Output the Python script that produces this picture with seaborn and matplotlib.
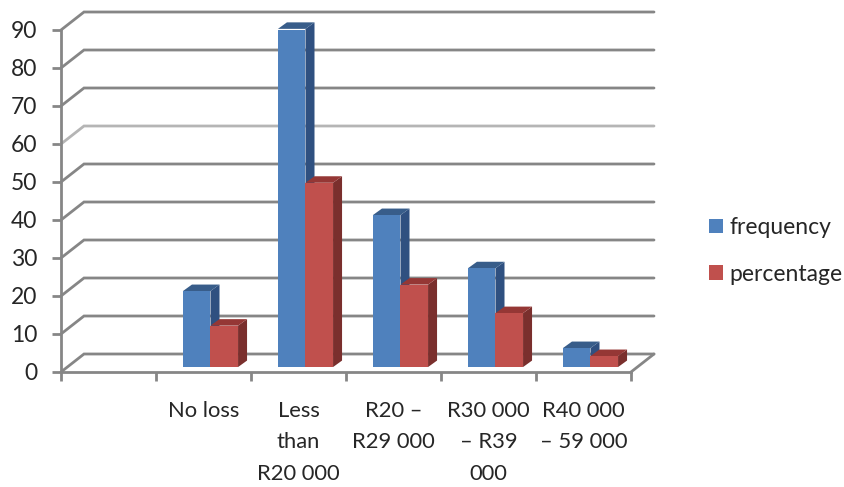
import matplotlib
matplotlib.use("Agg")
import matplotlib.pyplot as plt
from matplotlib.patches import Polygon, Patch
import numpy as np
import pandas as pd
import seaborn as sns

categories = ["", "No loss", "Less\nthan\nR20 000", "R20 –\nR29 000",
              "R30 000\n– R39\n000", "R40 000\n– 59 000"]
frequency = [np.nan, 20, 89, 40, 26, 5]
percentage = [np.nan, 10.9, 48.5, 21.7, 14.2, 2.9]
y_ticks = list(range(0, 100, 10))

GRID = "#868686"
FRONT = {"frequency": "#4F81BD", "percentage": "#C0504D"}
TOP = {"frequency": "#385D8A", "percentage": "#953735"}
SIDE = {"frequency": "#2F5080", "percentage": "#7A2F2D"}

sns.set_theme(style="white")
plt.rcParams["font.family"] = ["Lato", "DejaVu Sans"]
TEXT = "#262626"
FS = 16.5
FS_X = 15.8
LW = 2.0

W, H = 845, 487
fig = plt.figure(figsize=(W / 100, H / 100), dpi=100)
ax = fig.add_axes([61 / W, 1 - 372 / H, 570 / W, 342 / H])

table = pd.DataFrame({
    "category": categories * 2,
    "series": ["frequency"] * 6 + ["percentage"] * 6,
    "value": frequency + percentage,
})

# The columns stand slightly above the front floor edge, on the 3-D floor.
base = 1.3
sns.barplot(data=table, x="category", y="value", hue="series", order=categories,
            hue_order=["frequency", "percentage"], palette=FRONT, saturation=1,
            width=0.58, gap=0, bottom=base, linewidth=0, legend=False, ax=ax)

x_left = 1 - 149.5 / 95
x_right = x_left + 6
ax.set_xlim(x_left, x_right)
ax.set_ylim(0, 90)

# Depth of the chart walls and of the columns, in data units.
wall_dx, wall_dy = 23 / 95, 18 / 3.8
bar_dx, bar_dy = 9 / 95, 6.5 / 3.8

# Back wall gridlines with their slanted returns on the left side wall.
for v in y_ticks:
    shade = "#B5B5B5" if v == 60 else GRID
    ax.plot([x_left, x_left + wall_dx, x_right + wall_dx],
            [v, v + wall_dy, v + wall_dy],
            color=shade, lw=LW, clip_on=False, zorder=1, solid_joinstyle="miter")
ax.plot([x_right, x_right + wall_dx], [0, wall_dy], color=GRID, lw=LW,
        clip_on=False, zorder=1)

# Extrude each column: side and top faces sit behind the next column's front.
z = 2.0
for series, container in zip(["frequency", "percentage"], ax.containers):
    for bar in container:
        h = bar.get_height()
        if not np.isfinite(h) or h <= 0:
            continue
        x0, x1 = bar.get_x(), bar.get_x() + bar.get_width()
        y0, y1 = bar.get_y(), bar.get_y() + h
        ax.add_patch(Polygon([(x1, y0), (x1 + bar_dx, y0 + bar_dy),
                              (x1 + bar_dx, y1 + bar_dy), (x1, y1)],
                             closed=True, fc=SIDE[series], ec="none", zorder=z,
                             clip_on=False))
        ax.add_patch(Polygon([(x0, y1), (x0 + bar_dx, y1 + bar_dy),
                              (x1 + bar_dx, y1 + bar_dy), (x1, y1)],
                             closed=True, fc=TOP[series], ec="none", zorder=z,
                             clip_on=False))
        bar.set_zorder(z + 0.1)
    z += 1

sns.despine(ax=ax, top=True, right=True)
for name in ("left", "bottom"):
    ax.spines[name].set_color(GRID)
    ax.spines[name].set_linewidth(LW)
    ax.spines[name].set_zorder(1.5)

ax.set_xlabel("")
ax.set_ylabel("")
ax.set_yticks(y_ticks)
ax.set_yticklabels([str(v) for v in y_ticks], fontsize=FS, color=TEXT)
ax.tick_params(axis="y", which="major", left=True, length=6.5, width=LW,
               color=GRID, pad=10.7)

# Tick marks fall between categories; labels sit mid-way between the marks.
edges = x_left + np.arange(7)
ax.set_xticks(edges)
ax.set_xticklabels([""] * 7)
ax.set_xticks(edges[:-1] + 0.5, labels=categories, minor=True, fontsize=FS_X,
              color=TEXT, linespacing=1.7, va="top")
ax.tick_params(axis="x", which="major", bottom=True, length=6.5, width=LW, color=GRID)
ax.tick_params(axis="x", which="minor", bottom=False, length=0, pad=21)

handles = [Patch(fc=FRONT[s], ec="none", label=s) for s in FRONT]
fig.legend(handles=handles, frameon=False, fontsize=FS, loc="center left",
           bbox_to_anchor=(709 / W, 1 - 251 / H), handlelength=0.61, handleheight=0.61,
           handletextpad=0.3, labelspacing=1.12, labelcolor=TEXT,
           borderpad=0, borderaxespad=0)

fig.savefig("out.png", dpi=100)
